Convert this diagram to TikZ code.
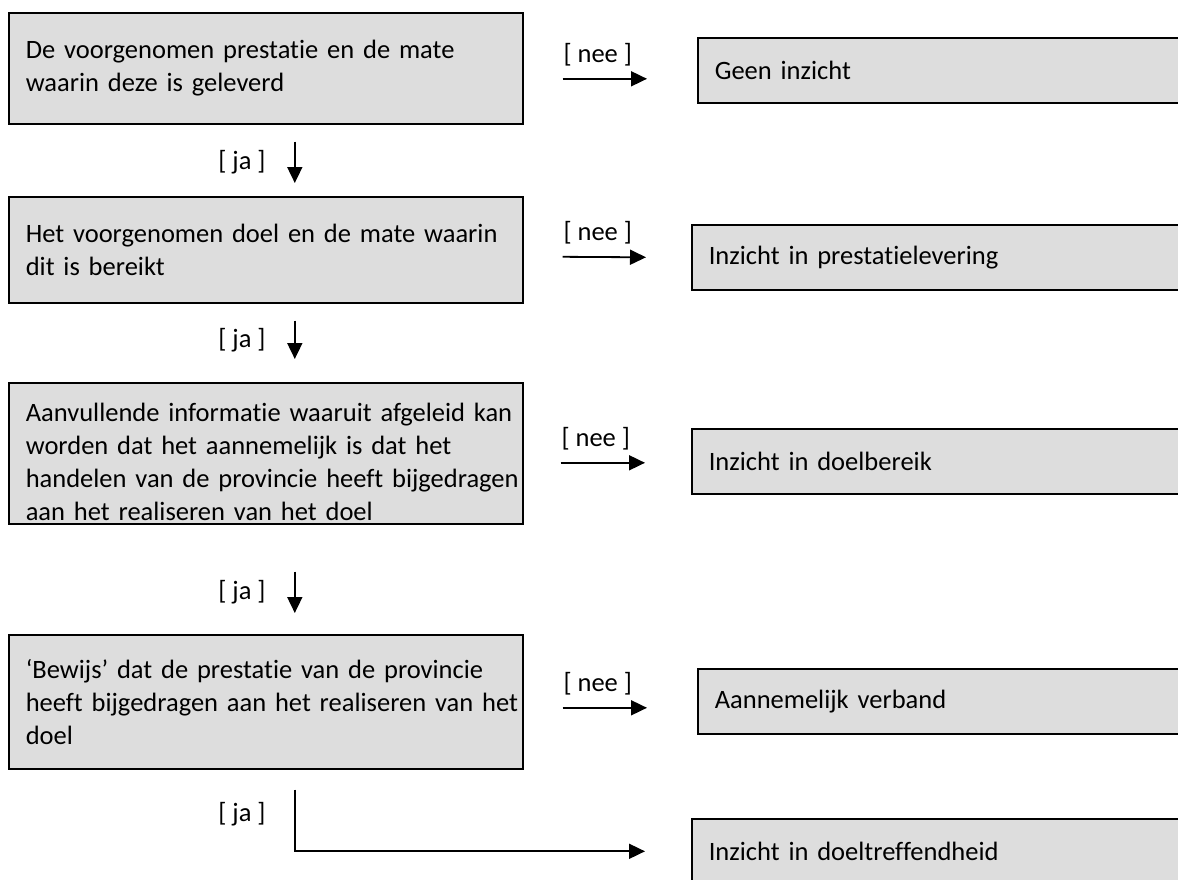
\documentclass[tikz,border=0pt]{standalone}
\usepackage{fontspec}
\setmainfont{Carlito}[Ligatures=NoCommon]
\usetikzlibrary{arrows.meta}
\definecolor{boxgray}{HTML}{DDDDDD}
\newcommand{\LL}[1]{\mbox{#1}}
\tikzset{
  every node/.style={font=\fontsize{26.5}{33}\selectfont},
  leftbox/.style={draw=black, fill=boxgray, line width=1.6pt, anchor=north west,
    minimum width=514pt, text width=480pt, inner xsep=17pt, inner ysep=0pt, align=left},
  rightbox/.style={draw=black, fill=boxgray, line width=1.6pt, anchor=north west,
    minimum width=520pt, minimum height=65pt, text width=486pt, inner xsep=17pt, inner ysep=0pt, align=left},
  arr/.style={line width=1.8pt, -{Triangle[length=16pt,width=15pt]}},
  lbl/.style={inner sep=3.33pt},
  neelbl/.style={lbl, pos=0, above right, yshift=8pt, xshift=-3.33pt}
}
\begin{document}
\begin{tikzpicture}[x=1pt,y=-1pt]
\useasboundingbox (0,0) rectangle (1178,879);
\clip (0,0) rectangle (1178,879);
% left column
\node[leftbox, minimum height=111pt] (b1) at (8,12) {\LL{De voorgenomen prestatie en de mate}\\\LL{waarin deze is geleverd}};
\node[leftbox, minimum height=106pt] (b2) at (8,196) {\LL{Het voorgenomen doel en de mate waarin}\\\LL{dit is bereikt}};
\node[leftbox, minimum height=141pt] (b3) at (8,382) {\rule{0pt}{35pt}\LL{Aanvullende informatie waaruit afgeleid kan}\\\LL{worden dat het aannemelijk is dat het}\\\LL{handelen van de provincie heeft bijgedragen}\\\LL{aan het realiseren van het doel}};
\node[leftbox, minimum height=134pt] (b4) at (8,634) {\LL{‘Bewijs’ dat de prestatie van de provincie}\\\LL{heeft bijgedragen aan het realiseren van het}\\\LL{doel}};
% right column
\node[rightbox] (r1) at (697,37) {Geen inzicht};
\node[rightbox] (r2) at (691,224) {Inzicht in prestatielevering};
\node[rightbox] (r3) at (691,428) {Inzicht in doelbereik};
\node[rightbox] (r4) at (697,668) {Aannemelijk verband};
\node[rightbox] (r5) at (691,818) {Inzicht in doeltreffendheid};
% nee arrows
\draw[arr] ([xshift=39pt,yshift=-10.5pt]b1.east) -- node[neelbl]{[ nee ]} ([xshift=-50pt,yshift=-8.5pt]r1.west);
\draw[arr] ([xshift=39pt,yshift=-7pt]b2.east) -- node[neelbl]{[ nee ]} ([xshift=-45pt]r2.west);
\draw[arr] ([xshift=37pt,yshift=-9.5pt]b3.east) -- node[neelbl]{[ nee ]} ([xshift=-46pt,yshift=-1.5pt]r3.west);
\draw[arr] ([xshift=39pt,yshift=-6pt]b4.east) -- node[neelbl]{[ nee ]} ([xshift=-50pt,yshift=-6.5pt]r4.west);
% ja arrows
\draw[arr] ([xshift=29pt,yshift=-17pt]b1.south) -- node[lbl, midway, left=25pt]{[ ja ]} ([xshift=29pt,yshift=13pt]b2.north);
\draw[arr] ([xshift=29pt,yshift=-17pt]b2.south) -- node[lbl, midway, left=25pt]{[ ja ]} ([xshift=29pt,yshift=23pt]b3.north);
\draw[arr] ([xshift=29pt,yshift=-47pt]b3.south) -- node[lbl, midway, left=25pt]{[ ja ]} ([xshift=29pt,yshift=21pt]b4.north);
\draw[arr] ([xshift=29pt,yshift=-20pt]b4.south) |- node[lbl, pos=0.2, left=25pt]{[ ja ]} ([xshift=-46pt]r5.west);
\end{tikzpicture}
\end{document}
